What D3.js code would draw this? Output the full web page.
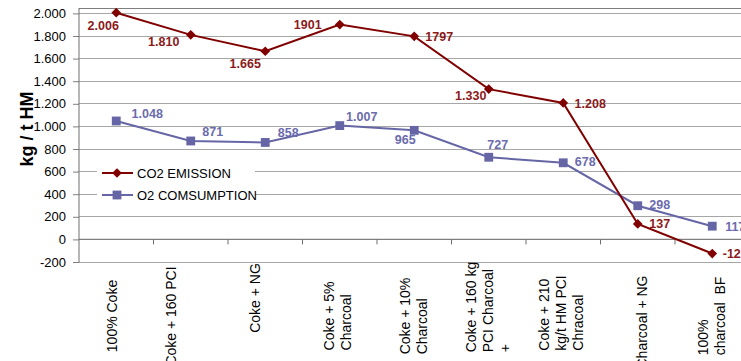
<!DOCTYPE html>
<html><head><meta charset="utf-8">
<script src="https://cdn.jsdelivr.net/npm/d3@7"></script>
<style>html,body{margin:0;padding:0;background:#fff;overflow:hidden}</style>
</head><body><svg id="c" width="741" height="361"></svg>
<script>
// ---------- data ----------
const categories = ["100% Coke","Coke + 160 PCI","Coke + NG","Coke + 5% Charcoal","Coke + 10% Charcoal",
  "Coke + 160 kg PCI Charcoal +","Coke + 210 kg/t HM PCI Chracoal","Charcoal + NG","100% charcoal  BF"];
const categoryLines = [["100% Coke"],["Coke + 160 PCI"],["Coke + NG"],["Coke + 5%","Charcoal"],["Coke + 10%","Charcoal"],
  ["Coke + 160 kg","PCI Charcoal","+"],["Coke + 210","kg/t HM PCI","Chracoal"],["Charcoal + NG"],["100%","charcoal  BF"]];
const co2Emission = [2006,1810,1665,1901,1797,1330,1208,137,-125];
const co2Labels = ["2.006","1.810","1.665","1901","1797","1.330","1.208","137","-125"];
const o2Consumption = [1048,871,858,1007,965,727,678,298,117];
const o2Labels = ["1.048","871","858","1.007","965","727","678","298","117"];
const yTicks = [-200,0,200,400,600,800,1000,1200,1400,1600,1800,2000];
const yTickLabels = ["-200","0","200","400","600","800","1.000","1.200","1.400","1.600","1.800","2.000"];
const seriesNames = ["CO2 EMISSION","O2 COMSUMPTION"];
const axisTitle = "kg / t HM";

// ---------- layout (label nudges, px) ----------
const co2LabelOffset = [[-13,13],[-27,7],[-20,12],[-32,0],[25,0],[-18,6],[27,1],[22,0],[23,0]];
const o2LabelOffset  = [[31,-7],[22,-9],[23,-10],[22,-9],[-9,9],[9,-13],[22,-1],[22,-1],[23,0]];
const catShiftX = [-4,-20,-10,-2,-1,-1,-2,4,-1];
const catShiftY = [0,0,-18,0,0,-9,-3,6,0];

const C_CO2 = "#800000", C_CO2_T = "#8b1a1a";
const C_O2 = "#6666a6", C_O2_T = "#6b6bad";
const FONT = "'Liberation Sans', Arial, sans-serif";

const svg = d3.select("#c");
svg.append("rect").attr("width",741).attr("height",361).attr("fill","#fff");

const left = 79, bw = 74.5;
const x = d3.scaleBand().domain(categories).range([left, left + bw*categories.length]).padding(0);
const cx = c => x(c) + x.bandwidth()/2;
const y = d3.scaleLinear().domain([-200,2000]).range([262,13.4]);
const right = 741;

// gridlines
svg.append("g").selectAll("line").data(yTicks.filter(d=>d!==0)).join("line")
  .attr("x1",left).attr("x2",right).attr("y1",d=>y(d)).attr("y2",d=>y(d))
  .attr("stroke","#a6a6a6").attr("stroke-width",1).attr("shape-rendering","crispEdges");
// top border
svg.append("line").attr("x1",left).attr("x2",right).attr("y1",8.5).attr("y2",8.5)
  .attr("stroke","#7f7f7f").attr("stroke-width",1);

// zero axis line + category ticks
svg.append("line").attr("x1",left).attr("x2",right).attr("y1",y(0)).attr("y2",y(0))
  .attr("stroke","#7f7f7f").attr("stroke-width",1.2);
svg.append("g").selectAll("line").data(categories.slice(1)).join("line")
  .attr("x1",d=>x(d)).attr("x2",d=>x(d)).attr("y1",y(0)).attr("y2",y(0)+5)
  .attr("stroke","#6f6f6f").attr("stroke-width",1);

// y axis
const ya = svg.append("g").attr("transform",`translate(${left},0)`)
  .call(d3.axisLeft(y).tickValues(yTicks).tickFormat((d,i)=>yTickLabels[i]).tickSize(6).tickPadding(7).tickSizeOuter(0));
ya.select(".domain").remove();
ya.append("line").attr("x1",0).attr("x2",0).attr("y1",8).attr("y2",262.5).attr("stroke","#6f6f6f");
ya.selectAll(".tick line").attr("stroke","#7f7f7f");
ya.selectAll(".tick text").attr("font-family",FONT).attr("font-size",13).attr("fill","#000");

// axis title
svg.append("text").attr("transform","translate(33,129) rotate(-90)")
  .attr("text-anchor","middle").attr("font-family",FONT).attr("font-weight","bold")
  .attr("font-size",18).attr("fill","#000").text(axisTitle);

// category labels
const lineGap = 17;
categories.forEach((c,i)=>{
  const lines = categoryLines[i];
  const n = lines.length;
  const g = svg.append("g");
  const texts = lines.map((t,j)=> g.append("text").attr("font-family",FONT).attr("font-size",14)
      .attr("fill","#000").attr("text-anchor","start").style("white-space","pre").attr("xml:space","preserve").text(t));
  const maxLen = d3.max(texts, t=>t.node().getComputedTextLength());
  const bottom = 316 + maxLen/2 + catShiftY[i];
  texts.forEach((t,j)=>{
    const vx = cx(c) + catShiftX[i] + (j-(n-1)/2)*lineGap + 5;
    t.attr("transform",`translate(${vx},${bottom}) rotate(-90)`);
  });
});

// legend
const lg = svg.append("g");
lg.append("rect").attr("x",97).attr("y",160).attr("width",158).attr("height",45).attr("fill","#fff");

// lines
const line = d3.line().x((d,i)=>cx(categories[i])).y(d=>y(d));
svg.append("path").datum(o2Consumption).attr("d",line).attr("fill","none").attr("stroke",C_O2).attr("stroke-width",2);
svg.append("path").datum(co2Emission).attr("d",line).attr("fill","none").attr("stroke",C_CO2).attr("stroke-width",2);

const diamond = d3.symbol().type(d3.symbolDiamond2).size(60);
const square = d3.symbol().type(d3.symbolSquare).size(78);

svg.append("g").selectAll("path").data(o2Consumption).join("path")
  .attr("d",square).attr("transform",(d,i)=>`translate(${cx(categories[i])},${y(d)})`).attr("fill",C_O2);
svg.append("g").selectAll("path").data(co2Emission).join("path")
  .attr("d",diamond).attr("transform",(d,i)=>`translate(${cx(categories[i])},${y(d)})`).attr("fill",C_CO2);

// value labels
svg.append("g").selectAll("text").data(co2Emission).join("text")
  .attr("x",(d,i)=>cx(categories[i])+co2LabelOffset[i][0]).attr("y",(d,i)=>y(d)+co2LabelOffset[i][1]+4.5)
  .attr("text-anchor","middle").attr("font-family",FONT).attr("font-weight","bold").attr("font-size",12.5)
  .attr("fill",C_CO2_T).text((d,i)=>co2Labels[i]);
svg.append("g").selectAll("text").data(o2Consumption).join("text")
  .attr("x",(d,i)=>cx(categories[i])+o2LabelOffset[i][0]).attr("y",(d,i)=>y(d)+o2LabelOffset[i][1]+4.5)
  .attr("text-anchor","middle").attr("font-family",FONT).attr("font-weight","bold").attr("font-size",12.5)
  .attr("fill",C_O2_T).text((d,i)=>o2Labels[i]);

// legend items
const items = [{n:seriesNames[0],c:C_CO2,s:diamond,y:173},{n:seriesNames[1],c:C_O2,s:square,y:195}];
items.forEach(it=>{
  lg.append("line").attr("x1",102).attr("x2",133).attr("y1",it.y).attr("y2",it.y).attr("stroke",it.c).attr("stroke-width",2);
  lg.append("path").attr("d",it.s).attr("transform",`translate(117,${it.y})`).attr("fill",it.c);
  lg.append("text").attr("x",137).attr("y",it.y+4.5).attr("font-family",FONT).attr("font-size",13)
    .attr("fill","#000").text(it.n);
});
</script></body></html>
